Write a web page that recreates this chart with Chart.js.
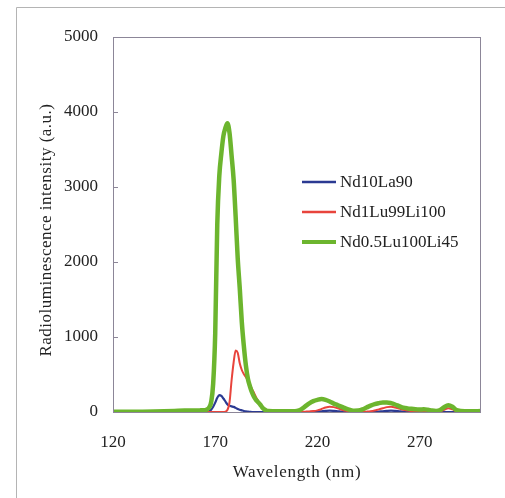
<!DOCTYPE html>
<html>
<head>
<meta charset="utf-8">
<script src="https://cdn.jsdelivr.net/npm/chart.js@4.4.0/dist/chart.umd.min.js"></script>
<style>
  html, body { margin: 0; padding: 0; background: #ffffff; font-family: "Liberation Serif", serif; }
  #wrap { width: 505px; height: 498px; position: relative; }
</style>
</head>
<body>
<div id="wrap"><canvas id="c" width="505" height="498"></canvas></div>
<script>
// ---- data ----
const wavelengths = [120,130,140,150,155,160,163,165,166,167,168,169,170,171,172,173,174,175,176,177,178,179,180,181,182,183,184,185,186,187,188,189,190,191,192,193,194,195,196,198,200,205,208,210,212,214,216,218,220,222,224,226,228,230,232,234,236,238,240,242,244,246,248,250,252,254,256,258,260,262,264,266,268,270,272,274,276,278,280,282,284,286,288,290,295,300];

const seriesNames = ["Nd10La90", "Nd1Lu99Li100", "Nd0.5Lu100Li45"];

const nd10La90 = [0,0,0,0,0,0,0,0,0,8,30,70,125,190,225,215,180,140,100,85,75,68,55,40,30,22,14,8,4,2,0,0,0,0,0,0,0,0,0,0,0,0,0,0,0,0,0,0,5,10,15,18,15,10,5,2,0,0,0,0,0,0,0,5,10,15,18,15,10,5,2,0,0,0,0,0,0,0,0,0,0,0,0,0,0,0];

const nd1Lu99Li100 = [0,0,0,0,0,0,0,0,0,0,0,0,0,0,0,0,0,5,30,130,420,660,820,790,650,560,505,465,425,365,305,255,195,145,100,60,35,15,6,2,0,0,0,0,2,5,8,12,22,40,60,70,65,50,30,15,6,2,0,2,5,10,20,35,50,65,70,60,45,30,20,12,8,5,5,5,3,3,8,30,50,35,10,3,0,0];

const nd05Lu100Li45 = [5,5,8,15,20,20,22,25,35,60,130,380,1050,2500,3150,3450,3680,3790,3850,3720,3420,3100,2600,2050,1650,1200,880,620,440,340,260,200,160,130,100,60,35,18,12,10,10,10,10,15,35,75,115,145,162,172,162,140,112,90,68,45,28,18,20,35,60,85,105,118,128,128,118,100,78,58,48,42,38,32,36,30,20,15,25,65,90,70,25,15,10,12];

const xTicks = [120, 170, 220, 270];
const yTicks = [0, 1000, 2000, 3000, 4000, 5000];
const xTitle = "Wavelength (nm)";
const yTitle = "Radioluminescence intensity (a.u.)";

// ---- chart ----
const toPoints = vals => wavelengths.map((w, i) => ({ x: w, y: vals[i] }));
const colors = ["#2b3a92", "#e8443c", "#6cb52e"];
const widths = [2.2, 2, 4.5];
const FAM = "'Liberation Serif', serif";
const FS = 17;

Chart.defaults.font.family = FAM;
Chart.defaults.color = "#222222";

const decor = {
  id: "decor",
  beforeDraw(chart) {
    const ctx = chart.ctx;
    ctx.save();
    ctx.fillStyle = "#ffffff";
    ctx.fillRect(0, 0, chart.width, chart.height);
    ctx.strokeStyle = "#b4b4b4";
    ctx.lineWidth = 1;
    ctx.beginPath();
    ctx.moveTo(16.5, chart.height);
    ctx.lineTo(16.5, 7.5);
    ctx.lineTo(chart.width, 7.5);
    ctx.stroke();
    ctx.restore();
  },
  afterDatasetsDraw(chart) {
    const ctx = chart.ctx;
    const a = chart.chartArea;
    ctx.save();
    ctx.strokeStyle = "#8c8698";
    ctx.lineWidth = 1;
    ctx.strokeRect(a.left + 0.5, a.top + 0.5, a.right - a.left - 1, a.bottom - a.top);
    // inner tick marks on y axis
    const ys = chart.scales.y;
    ctx.beginPath();
    yTicks.forEach(v => {
      const py = Math.round(ys.getPixelForValue(v)) + 0.5;
      ctx.moveTo(a.left, py);
      ctx.lineTo(a.left + 5, py);
    });
    ctx.stroke();
    // axis titles
    ctx.fillStyle = "#222222";
    ctx.font = FS + "px " + FAM;
    ctx.textAlign = "center";
    ctx.textBaseline = "middle";
    ctx.letterSpacing = "0.7px";
    ctx.fillText(xTitle, (a.left + a.right) / 2, 473);
    ctx.save();
    ctx.translate(47, 230);
    ctx.rotate(-Math.PI / 2);
    ctx.letterSpacing = "0.5px";
    ctx.fillText(yTitle, 0, 0);
    ctx.restore();
    ctx.letterSpacing = "0px";
    // legend
    const lx = 302, ly0 = 182, step = 30;
    ctx.font = "17px " + FAM;
    ctx.textBaseline = "middle";
    ctx.textAlign = "left";
    chart.data.datasets.forEach((ds, i) => {
      const y = ly0 + i * step;
      ctx.strokeStyle = ds.borderColor;
      ctx.lineWidth = i === 2 ? 4 : 2.5;
      ctx.beginPath();
      ctx.moveTo(lx, y);
      ctx.lineTo(lx + 34, y);
      ctx.stroke();
      ctx.fillStyle = "#222222";
      ctx.fillText(ds.label, lx + 38, y + 1);
    });
    ctx.restore();
  }
};

new Chart(document.getElementById("c"), {
  type: "line",
  data: {
    datasets: [
      { label: seriesNames[0], data: toPoints(nd10La90), borderColor: colors[0], borderWidth: widths[0], order: 3 },
      { label: seriesNames[1], data: toPoints(nd1Lu99Li100), borderColor: colors[1], borderWidth: widths[1], order: 2 },
      { label: seriesNames[2], data: toPoints(nd05Lu100Li45), borderColor: colors[2], borderWidth: widths[2], order: 1 }
    ]
  },
  options: {
    responsive: false,
    animation: false,
    events: [],
    layout: { padding: { left: 0, right: 24, top: 37, bottom: 0 } },
    elements: {
      point: { radius: 0 },
      line: { cubicInterpolationMode: "monotone", fill: false, borderJoinStyle: "round", borderCapStyle: "round" }
    },
    plugins: { legend: { display: false }, tooltip: { enabled: false } },
    scales: {
      x: {
        type: "linear",
        min: 120, max: 300,
        afterBuildTicks: s => { s.ticks = xTicks.map(v => ({ value: v })); },
        afterFit: s => { s.height = 86; },
        grid: { display: false, drawTicks: false },
        border: { display: false },
        ticks: { font: { family: FAM, size: FS }, padding: 20, maxRotation: 0, autoSkip: false, color: "#222", callback: v => String(v) },
        title: { display: false, text: xTitle }
      },
      y: {
        type: "linear",
        min: 0, max: 5000,
        afterBuildTicks: s => { s.ticks = yTicks.map(v => ({ value: v })); },
        afterFit: s => { s.width = 113; },
        grid: { display: false, drawTicks: false },
        border: { display: false },
        ticks: { font: { family: FAM, size: FS }, padding: 15, color: "#222", callback: v => String(v) },
        title: { display: false, text: yTitle }
      }
    }
  },
  plugins: [decor]
});
</script>
</body>
</html>
